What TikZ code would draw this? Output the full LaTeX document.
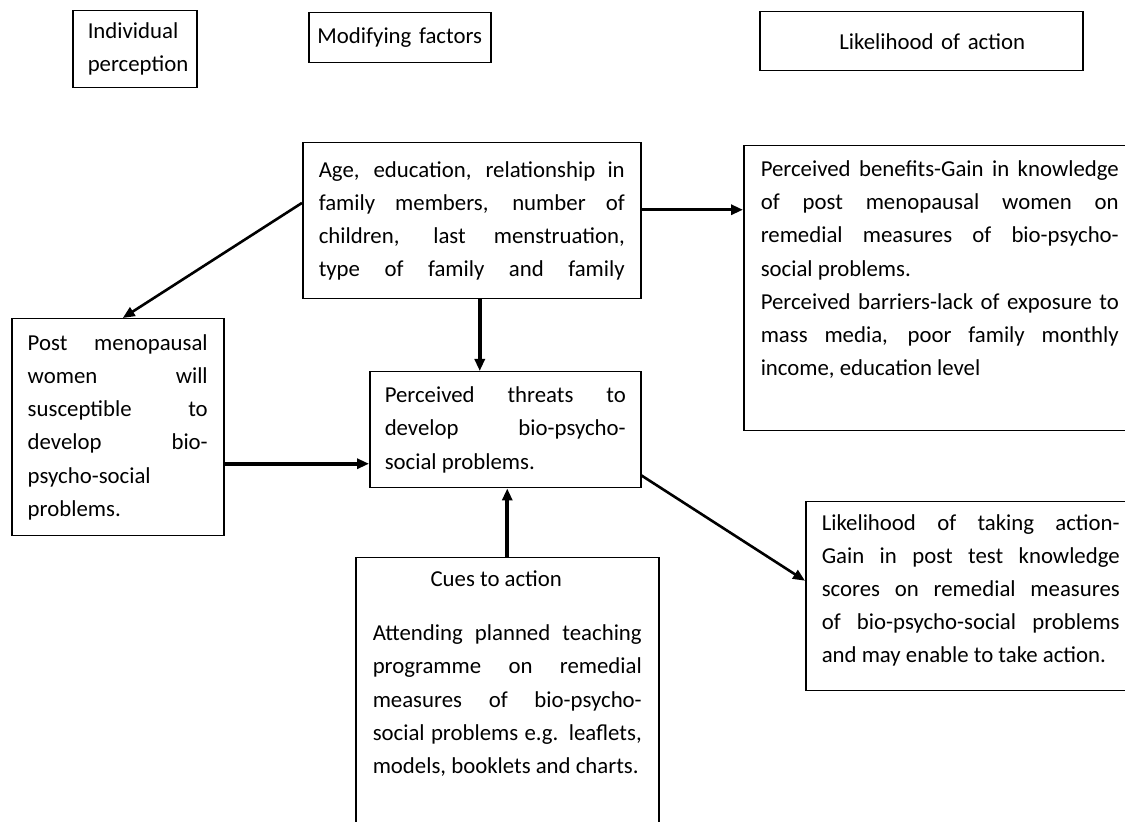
\documentclass[tikz,border=0pt]{standalone}
\usepackage{fontspec}
\setmainfont{Carlito}
\usetikzlibrary{arrows.meta}
\tolerance=10000
\hbadness=10000
\hyphenpenalty=10000

\begin{document}
\begin{tikzpicture}[x=0.5pt, y=-0.5pt,
    box/.style={draw, line width=0.75pt, anchor=north west, inner xsep=8pt,
      inner ysep=0pt, align=justify, font=\fontsize{11.4}{16.6}\selectfont},
    arr/.style={-{Triangle[length=6pt, width=5pt]}, line width=1.3pt},
    thickarr/.style={arr, line width=2pt}]
  \clip (0,0) rectangle (1125,822);
  \fill[white] (0,0) rectangle (1125,822);

  % Headings
  \node[box, align=left, inner xsep=7.5pt, text width=47pt, minimum height=38.5pt] (indiv) at (72,10) {Individual\\perception};
  \node[box, align=center, inner xsep=2pt, text width=87pt, minimum height=25pt] (modif) at (308,12) {Modifying factors};
  \node[box, align=center, text width=145.5pt, minimum height=29.5pt] (likeact) at (759,11) {\hspace*{11pt}Likelihood of action};

  % Boxes
  \node[box, text width=153pt, minimum height=78pt] (age) at (302,142)
    {Age, education, relationship in\linebreak family members, number of\linebreak children, last menstruation,\linebreak type of family and family\parfillskip=0pt\par};
  \node[box, inner xsep=8.5pt, text width=179pt, minimum height=142.5pt] (benefits) at (743,145)
    {Perceived benefits-Gain in knowledge\linebreak of post menopausal women on\linebreak remedial measures of bio-psycho-\linebreak social problems.\par
     Perceived barriers-lack of exposure to\linebreak mass media, poor family monthly\linebreak income, education level\\[3.5pt]\mbox{}};
  \node[box, text width=90pt, minimum height=108.5pt] (post) at (11,318)
    {Post menopausal\linebreak women will\linebreak susceptible to\linebreak develop bio-\linebreak psycho-social\\ problems.};
  \node[box, inner xsep=7.5pt, text width=120.5pt, minimum height=58pt] (threats) at (369,371)
    {Perceived threats to\linebreak develop bio-psycho-\linebreak social problems.};
  \node[box, inner xsep=8.5pt, text width=134.5pt, minimum height=136.5pt] (cues) at (355,557)
    {{\centering\hspace*{-11pt}Cues to action\par}\vspace{10.5pt}
     Attending planned teaching\linebreak programme on remedial\linebreak measures of bio-psycho-\linebreak social problems e.g. leaflets,\linebreak models, booklets and charts.\\[5.5pt]\mbox{}};
  \node[box, text width=149pt, minimum height=94.5pt] (taking) at (805,501)
    {Likelihood of taking action-\linebreak Gain in post test knowledge\linebreak scores on remedial measures\linebreak of bio-psycho-social problems\linebreak and may enable to take action.\\[-9pt]\mbox{}};

  % Connectors
  \draw[arr] (age.174) -- ([xshift=2.5pt]post.north);
  \draw[thickarr] ([xshift=4pt]age.south) -- ([xshift=4pt]age.south |- threats.north);
  \draw[arr, line width=1.5pt] ([yshift=5.5pt]age.east) -- ([yshift=5.5pt]age.east -| benefits.west);
  \draw[thickarr] ([yshift=-18.25pt]post.east) -- ([yshift=-18.25pt]post.east -| threats.west);
  \draw[thickarr] (cues.north) -- (cues.north |- threats.south);
  \draw[arr] ([yshift=6.5pt]threats.south east) -- ([yshift=7.75pt]taking.west);
\end{tikzpicture}
\end{document}
